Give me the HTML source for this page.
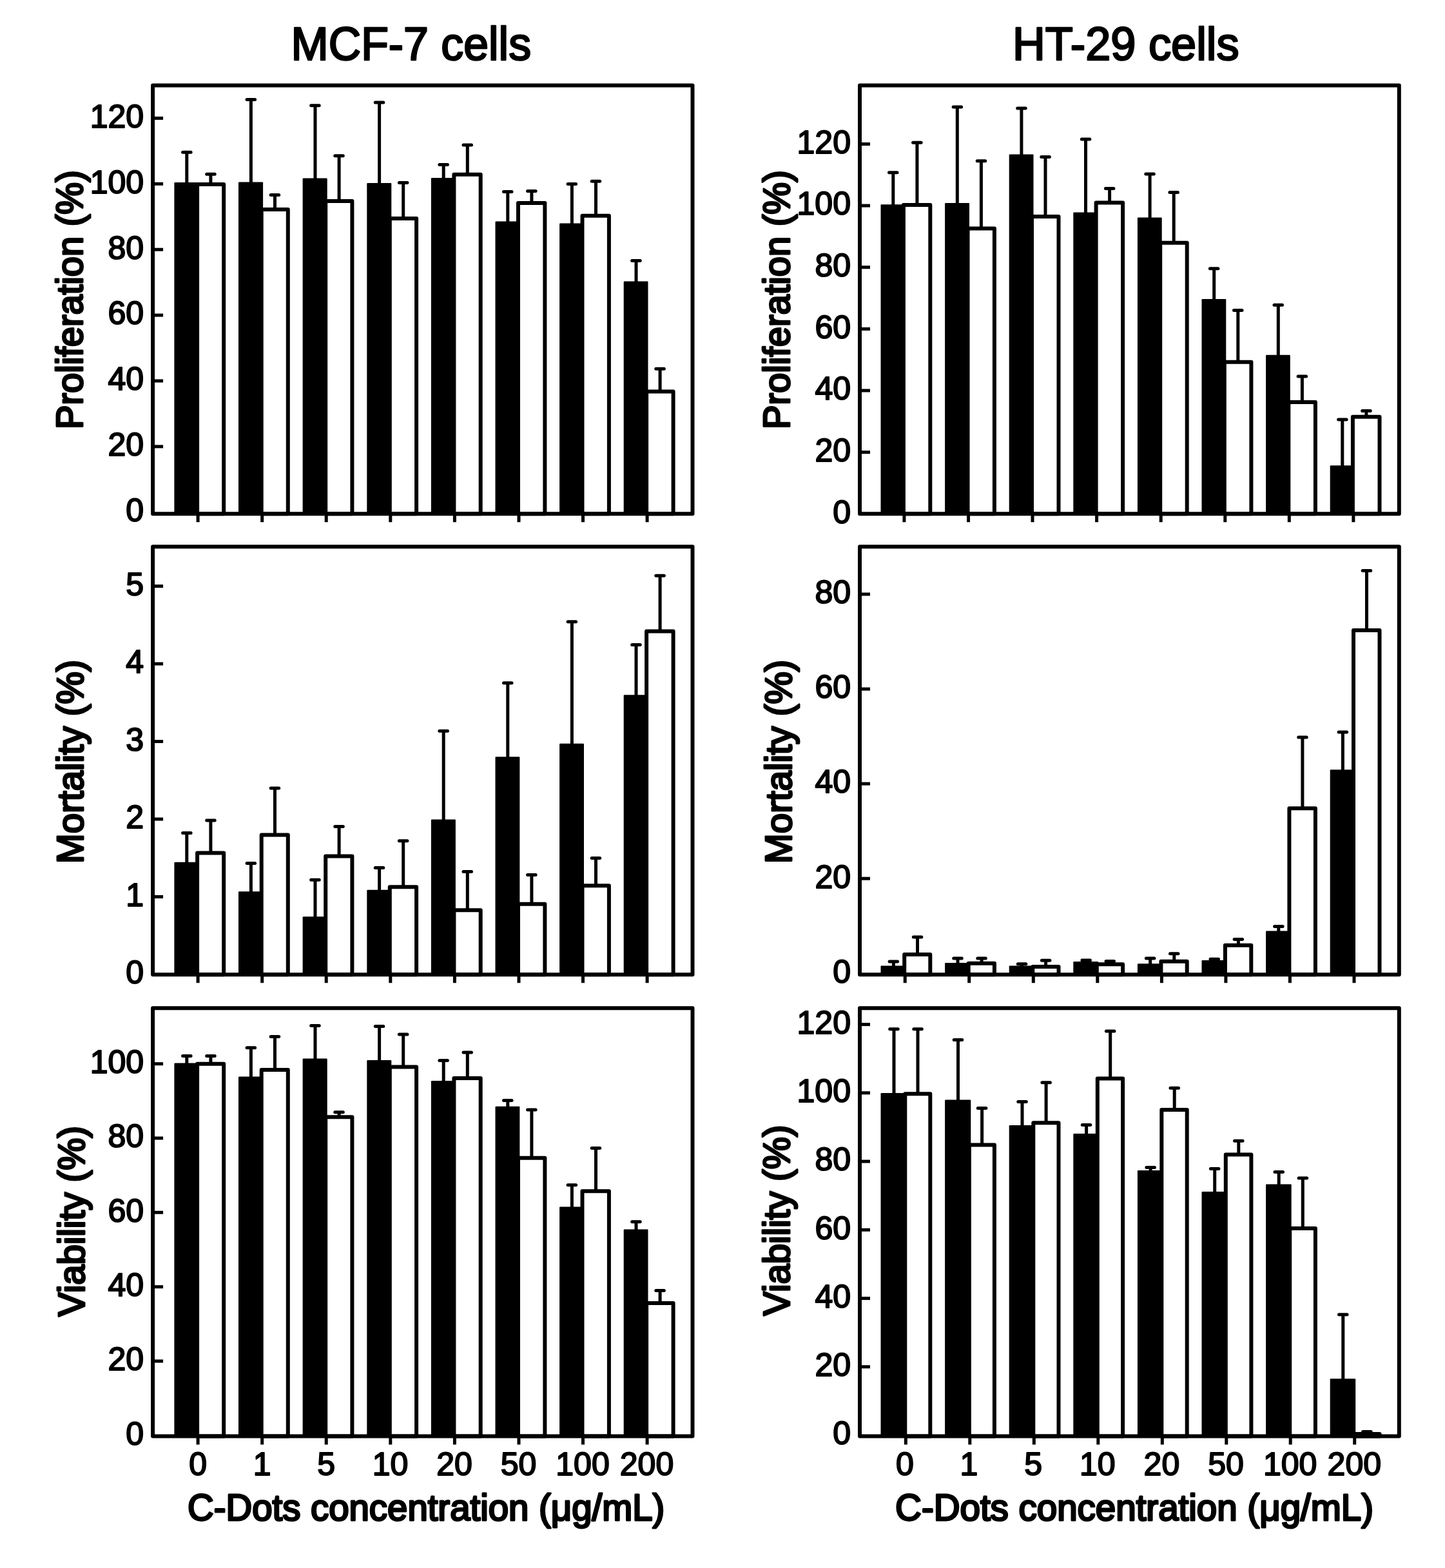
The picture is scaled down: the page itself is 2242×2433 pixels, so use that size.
<!DOCTYPE html>
<html><head><meta charset="utf-8"><title>C-Dots cytotoxicity</title>
<style>html,body{margin:0;padding:0;background:#fff;}svg{display:block;}text{font-family:"Liberation Sans", Arial, Helvetica, sans-serif;fill:#000;stroke:#000;stroke-width:2px;stroke-linejoin:round;}.tt{stroke-width:2.6px;}.ax{stroke-width:3px;}</style></head><body>
<div id="fig"><svg xmlns="http://www.w3.org/2000/svg" width="2242" height="2433" viewBox="0 0 2242 2433">
<rect width="2242" height="2433" fill="#fff"/>
<text class="tt" font-size="72" transform="translate(451.56 92.7) scale(0.9702 1)">MCF-7 cells</text>
<text class="tt" font-size="72" transform="translate(1570.97 92.7) scale(0.9766 1)">HT-29 cells</text>
<g stroke="#000" fill="none" stroke-linejoin="round">
<path d="M289.8 285V236.3" stroke-width="5.0"/>
<path d="M283.6 236.3H296.1" stroke-width="5.0" stroke-linecap="round"/>
<path d="M326.9 286V270.3" stroke-width="5.0"/>
<path d="M320.7 270.3H333.2" stroke-width="5.0" stroke-linecap="round"/>
<rect x="270.4" y="283" width="38.2" height="514.2" rx="1.2" fill="#000" stroke="none"/>
<rect x="306.1" y="286" width="41.1" height="511.2" fill="#fff" stroke-width="6.0"/>
<path d="M389.4 284.4V154.4" stroke-width="5.0"/>
<path d="M383.1 154.4H395.6" stroke-width="5.0" stroke-linecap="round"/>
<path d="M426.5 325V302.6" stroke-width="5.0"/>
<path d="M420.2 302.6H432.7" stroke-width="5.0" stroke-linecap="round"/>
<rect x="370" y="282.4" width="38.1" height="514.8" rx="1.2" fill="#000" stroke="none"/>
<rect x="405.7" y="325" width="41.1" height="472.2" fill="#fff" stroke-width="6.0"/>
<path d="M489 278.6V163.7" stroke-width="5.0"/>
<path d="M482.7 163.7H495.2" stroke-width="5.0" stroke-linecap="round"/>
<path d="M526.1 312V241.7" stroke-width="5.0"/>
<path d="M519.8 241.7H532.3" stroke-width="5.0" stroke-linecap="round"/>
<rect x="469.6" y="276.6" width="38.1" height="520.6" rx="1.2" fill="#000" stroke="none"/>
<rect x="505.2" y="312" width="41.2" height="485.2" fill="#fff" stroke-width="6.0"/>
<path d="M588.6 286V159.1" stroke-width="5.0"/>
<path d="M582.3 159.1H594.8" stroke-width="5.0" stroke-linecap="round"/>
<path d="M625.7 339V283.6" stroke-width="5.0"/>
<path d="M619.4 283.6H631.9" stroke-width="5.0" stroke-linecap="round"/>
<rect x="569.3" y="284" width="38" height="513.2" rx="1.2" fill="#000" stroke="none"/>
<rect x="604.8" y="339" width="41.3" height="458.2" fill="#fff" stroke-width="6.0"/>
<path d="M688.2 278.1V255.6" stroke-width="5.0"/>
<path d="M681.9 255.6H694.4" stroke-width="5.0" stroke-linecap="round"/>
<path d="M725.3 270.8V224.9" stroke-width="5.0"/>
<path d="M719 224.9H731.5" stroke-width="5.0" stroke-linecap="round"/>
<rect x="668.9" y="276.1" width="38" height="521.1" rx="1.2" fill="#000" stroke="none"/>
<rect x="704.4" y="270.8" width="41.3" height="526.4" fill="#fff" stroke-width="6.0"/>
<path d="M787.8 345.6V297.5" stroke-width="5.0"/>
<path d="M781.5 297.5H794" stroke-width="5.0" stroke-linecap="round"/>
<path d="M824.9 315V296.4" stroke-width="5.0"/>
<path d="M818.6 296.4H831.1" stroke-width="5.0" stroke-linecap="round"/>
<rect x="768.5" y="343.6" width="37.9" height="453.6" rx="1.2" fill="#000" stroke="none"/>
<rect x="804" y="315" width="41.4" height="482.2" fill="#fff" stroke-width="6.0"/>
<path d="M887.4 348.4V285.4" stroke-width="5.0"/>
<path d="M881.1 285.4H893.6" stroke-width="5.0" stroke-linecap="round"/>
<path d="M924.5 334.7V281.2" stroke-width="5.0"/>
<path d="M918.2 281.2H930.7" stroke-width="5.0" stroke-linecap="round"/>
<rect x="868.1" y="346.4" width="37.9" height="450.8" rx="1.2" fill="#000" stroke="none"/>
<rect x="903.5" y="334.7" width="41.4" height="462.5" fill="#fff" stroke-width="6.0"/>
<path d="M987 438.6V404.5" stroke-width="5.0"/>
<path d="M980.7 404.5H993.2" stroke-width="5.0" stroke-linecap="round"/>
<path d="M1024.1 607.4V572.2" stroke-width="5.0"/>
<path d="M1017.8 572.2H1030.3" stroke-width="5.0" stroke-linecap="round"/>
<rect x="967.7" y="436.6" width="37.8" height="360.6" rx="1.2" fill="#000" stroke="none"/>
<rect x="1003.1" y="607.4" width="41.5" height="189.8" fill="#fff" stroke-width="6.0"/>
<rect x="237.1" y="132.6" width="837.4" height="664.6" stroke-width="6.0"/>
<path d="M237.1 692.9H253.1" stroke-width="5.0"/>
<path d="M237.1 591H253.1" stroke-width="5.0"/>
<path d="M237.1 489.1H253.1" stroke-width="5.0"/>
<path d="M237.1 387.2H253.1" stroke-width="5.0"/>
<path d="M237.1 285.3H253.1" stroke-width="5.0"/>
<path d="M237.1 183.4H253.1" stroke-width="5.0"/>
<path d="M307.1 797.2V810.2" stroke-width="5.0"/>
<path d="M406.7 797.2V810.2" stroke-width="5.0"/>
<path d="M506.2 797.2V810.2" stroke-width="5.0"/>
<path d="M605.8 797.2V810.2" stroke-width="5.0"/>
<path d="M705.4 797.2V810.2" stroke-width="5.0"/>
<path d="M805 797.2V810.2" stroke-width="5.0"/>
<path d="M904.5 797.2V810.2" stroke-width="5.0"/>
<path d="M1004.1 797.2V810.2" stroke-width="5.0"/>
</g>
<text x="223.1" y="809.1" font-size="50" text-anchor="end">0</text>
<text x="223.1" y="707.2" font-size="50" text-anchor="end">20</text>
<text x="223.1" y="605.3" font-size="50" text-anchor="end">40</text>
<text x="223.1" y="503.4" font-size="50" text-anchor="end">60</text>
<text x="223.1" y="401.5" font-size="50" text-anchor="end">80</text>
<text x="223.1" y="299.6" font-size="50" text-anchor="end">100</text>
<text x="223.1" y="197.7" font-size="50" text-anchor="end">120</text>
<text class="ax" font-size="57" transform="translate(128.2 665.9) rotate(-90) scale(0.9833 1)">Proliferation (%)</text>
<g stroke="#000" fill="none" stroke-linejoin="round">
<path d="M1385.8 319.3V267.7" stroke-width="5.0"/>
<path d="M1379.5 267.7H1392" stroke-width="5.0" stroke-linecap="round"/>
<path d="M1422.9 318V221.2" stroke-width="5.0"/>
<path d="M1416.6 221.2H1429.1" stroke-width="5.0" stroke-linecap="round"/>
<rect x="1366.5" y="317.3" width="37.9" height="479.9" rx="1.2" fill="#000" stroke="none"/>
<rect x="1401.9" y="318" width="41.4" height="479.2" fill="#fff" stroke-width="6.0"/>
<path d="M1485.3 317V166.1" stroke-width="5.0"/>
<path d="M1479.1 166.1H1491.6" stroke-width="5.0" stroke-linecap="round"/>
<path d="M1522.4 354.5V249.8" stroke-width="5.0"/>
<path d="M1516.2 249.8H1528.7" stroke-width="5.0" stroke-linecap="round"/>
<rect x="1466.1" y="315" width="37.9" height="482.2" rx="1.2" fill="#000" stroke="none"/>
<rect x="1501.5" y="354.5" width="41.4" height="442.7" fill="#fff" stroke-width="6.0"/>
<path d="M1584.9 241.4V167.9" stroke-width="5.0"/>
<path d="M1578.7 167.9H1591.2" stroke-width="5.0" stroke-linecap="round"/>
<path d="M1622 335.9V243.5" stroke-width="5.0"/>
<path d="M1615.8 243.5H1628.3" stroke-width="5.0" stroke-linecap="round"/>
<rect x="1565.7" y="239.4" width="37.8" height="557.8" rx="1.2" fill="#000" stroke="none"/>
<rect x="1601" y="335.9" width="41.5" height="461.3" fill="#fff" stroke-width="6.0"/>
<path d="M1684.5 331.6V216.1" stroke-width="5.0"/>
<path d="M1678.3 216.1H1690.8" stroke-width="5.0" stroke-linecap="round"/>
<path d="M1721.6 314.5V292.4" stroke-width="5.0"/>
<path d="M1715.4 292.4H1727.9" stroke-width="5.0" stroke-linecap="round"/>
<rect x="1665.3" y="329.6" width="37.8" height="467.6" rx="1.2" fill="#000" stroke="none"/>
<rect x="1700.6" y="314.5" width="41.5" height="482.7" fill="#fff" stroke-width="6.0"/>
<path d="M1784.1 339.4V269.9" stroke-width="5.0"/>
<path d="M1777.8 269.9H1790.3" stroke-width="5.0" stroke-linecap="round"/>
<path d="M1821.2 376.8V298.4" stroke-width="5.0"/>
<path d="M1814.9 298.4H1827.4" stroke-width="5.0" stroke-linecap="round"/>
<rect x="1764.9" y="337.4" width="37.8" height="459.8" rx="1.2" fill="#000" stroke="none"/>
<rect x="1800.2" y="376.8" width="41.5" height="420.4" fill="#fff" stroke-width="6.0"/>
<path d="M1883.7 466V416.8" stroke-width="5.0"/>
<path d="M1877.4 416.8H1889.9" stroke-width="5.0" stroke-linecap="round"/>
<path d="M1920.8 561.7V481.5" stroke-width="5.0"/>
<path d="M1914.5 481.5H1927" stroke-width="5.0" stroke-linecap="round"/>
<rect x="1864.5" y="464" width="37.8" height="333.2" rx="1.2" fill="#000" stroke="none"/>
<rect x="1899.8" y="561.7" width="41.6" height="235.5" fill="#fff" stroke-width="6.0"/>
<path d="M1983.3 552.8V473.3" stroke-width="5.0"/>
<path d="M1977 473.3H1989.5" stroke-width="5.0" stroke-linecap="round"/>
<path d="M2020.4 623.9V583.9" stroke-width="5.0"/>
<path d="M2014.1 583.9H2026.6" stroke-width="5.0" stroke-linecap="round"/>
<rect x="1964.1" y="550.8" width="37.7" height="246.4" rx="1.2" fill="#000" stroke="none"/>
<rect x="1999.3" y="623.9" width="41.6" height="173.3" fill="#fff" stroke-width="6.0"/>
<path d="M2082.8 724.3V650.9" stroke-width="5.0"/>
<path d="M2076.6 650.9H2089.1" stroke-width="5.0" stroke-linecap="round"/>
<path d="M2119.9 646.7V637.4" stroke-width="5.0"/>
<path d="M2113.7 637.4H2126.2" stroke-width="5.0" stroke-linecap="round"/>
<rect x="2063.7" y="722.3" width="37.7" height="74.9" rx="1.2" fill="#000" stroke="none"/>
<rect x="2098.9" y="646.7" width="41.6" height="150.5" fill="#fff" stroke-width="6.0"/>
<rect x="1334" y="132.6" width="836.8" height="664.6" stroke-width="6.0"/>
<path d="M1334 701.7H1350" stroke-width="5.0"/>
<path d="M1334 606H1350" stroke-width="5.0"/>
<path d="M1334 510.4H1350" stroke-width="5.0"/>
<path d="M1334 414.7H1350" stroke-width="5.0"/>
<path d="M1334 319.1H1350" stroke-width="5.0"/>
<path d="M1334 223.5H1350" stroke-width="5.0"/>
<path d="M1402.9 797.2V810.2" stroke-width="5.0"/>
<path d="M1502.5 797.2V810.2" stroke-width="5.0"/>
<path d="M1602 797.2V810.2" stroke-width="5.0"/>
<path d="M1701.6 797.2V810.2" stroke-width="5.0"/>
<path d="M1801.2 797.2V810.2" stroke-width="5.0"/>
<path d="M1900.8 797.2V810.2" stroke-width="5.0"/>
<path d="M2000.3 797.2V810.2" stroke-width="5.0"/>
<path d="M2099.9 797.2V810.2" stroke-width="5.0"/>
</g>
<text x="1320" y="811.6" font-size="50" text-anchor="end">0</text>
<text x="1320" y="716" font-size="50" text-anchor="end">20</text>
<text x="1320" y="620.3" font-size="50" text-anchor="end">40</text>
<text x="1320" y="524.7" font-size="50" text-anchor="end">60</text>
<text x="1320" y="429" font-size="50" text-anchor="end">80</text>
<text x="1320" y="333.4" font-size="50" text-anchor="end">100</text>
<text x="1320" y="237.8" font-size="50" text-anchor="end">120</text>
<text class="ax" font-size="57" transform="translate(1224.5 665.9) rotate(-90) scale(0.9833 1)">Proliferation (%)</text>
<g stroke="#000" fill="none" stroke-linejoin="round">
<path d="M289.8 1339.8V1292.4" stroke-width="5.0"/>
<path d="M283.6 1292.4H296.1" stroke-width="5.0" stroke-linecap="round"/>
<path d="M326.9 1323.4V1273.1" stroke-width="5.0"/>
<path d="M320.7 1273.1H333.2" stroke-width="5.0" stroke-linecap="round"/>
<rect x="270.4" y="1337.8" width="38.2" height="174.4" rx="1.2" fill="#000" stroke="none"/>
<rect x="306.1" y="1323.4" width="41.1" height="188.8" fill="#fff" stroke-width="6.0"/>
<path d="M389.4 1385.2V1339.4" stroke-width="5.0"/>
<path d="M383.1 1339.4H395.6" stroke-width="5.0" stroke-linecap="round"/>
<path d="M426.5 1295.4V1223.1" stroke-width="5.0"/>
<path d="M420.2 1223.1H432.7" stroke-width="5.0" stroke-linecap="round"/>
<rect x="370" y="1383.2" width="38.1" height="129" rx="1.2" fill="#000" stroke="none"/>
<rect x="405.7" y="1295.4" width="41.1" height="216.8" fill="#fff" stroke-width="6.0"/>
<path d="M489 1424.2V1365.2" stroke-width="5.0"/>
<path d="M482.7 1365.2H495.2" stroke-width="5.0" stroke-linecap="round"/>
<path d="M526.1 1328.5V1282.6" stroke-width="5.0"/>
<path d="M519.8 1282.6H532.3" stroke-width="5.0" stroke-linecap="round"/>
<rect x="469.6" y="1422.2" width="38.1" height="90" rx="1.2" fill="#000" stroke="none"/>
<rect x="505.2" y="1328.5" width="41.2" height="183.7" fill="#fff" stroke-width="6.0"/>
<path d="M588.6 1382.8V1346.6" stroke-width="5.0"/>
<path d="M582.3 1346.6H594.8" stroke-width="5.0" stroke-linecap="round"/>
<path d="M625.7 1376.2V1304.8" stroke-width="5.0"/>
<path d="M619.4 1304.8H631.9" stroke-width="5.0" stroke-linecap="round"/>
<rect x="569.3" y="1380.8" width="38" height="131.4" rx="1.2" fill="#000" stroke="none"/>
<rect x="604.8" y="1376.2" width="41.3" height="136" fill="#fff" stroke-width="6.0"/>
<path d="M688.2 1273.5V1134.3" stroke-width="5.0"/>
<path d="M681.9 1134.3H694.4" stroke-width="5.0" stroke-linecap="round"/>
<path d="M725.3 1412.2V1352.5" stroke-width="5.0"/>
<path d="M719 1352.5H731.5" stroke-width="5.0" stroke-linecap="round"/>
<rect x="668.9" y="1271.5" width="38" height="240.7" rx="1.2" fill="#000" stroke="none"/>
<rect x="704.4" y="1412.2" width="41.3" height="100" fill="#fff" stroke-width="6.0"/>
<path d="M787.8 1176.2V1059.7" stroke-width="5.0"/>
<path d="M781.5 1059.7H794" stroke-width="5.0" stroke-linecap="round"/>
<path d="M824.9 1402.8V1357.4" stroke-width="5.0"/>
<path d="M818.6 1357.4H831.1" stroke-width="5.0" stroke-linecap="round"/>
<rect x="768.5" y="1174.2" width="37.9" height="338" rx="1.2" fill="#000" stroke="none"/>
<rect x="804" y="1402.8" width="41.4" height="109.4" fill="#fff" stroke-width="6.0"/>
<path d="M887.4 1155.7V964.7" stroke-width="5.0"/>
<path d="M881.1 964.7H893.6" stroke-width="5.0" stroke-linecap="round"/>
<path d="M924.5 1374.3V1331.5" stroke-width="5.0"/>
<path d="M918.2 1331.5H930.7" stroke-width="5.0" stroke-linecap="round"/>
<rect x="868.1" y="1153.7" width="37.9" height="358.5" rx="1.2" fill="#000" stroke="none"/>
<rect x="903.5" y="1374.3" width="41.4" height="137.9" fill="#fff" stroke-width="6.0"/>
<path d="M987 1080.2V1000.4" stroke-width="5.0"/>
<path d="M980.7 1000.4H993.2" stroke-width="5.0" stroke-linecap="round"/>
<path d="M1024.1 979.6V893.3" stroke-width="5.0"/>
<path d="M1017.8 893.3H1030.3" stroke-width="5.0" stroke-linecap="round"/>
<rect x="967.7" y="1078.2" width="37.8" height="434" rx="1.2" fill="#000" stroke="none"/>
<rect x="1003.1" y="979.6" width="41.5" height="532.6" fill="#fff" stroke-width="6.0"/>
<rect x="237.1" y="848.3" width="837.4" height="663.9" stroke-width="6.0"/>
<path d="M237.1 1391.5H253.1" stroke-width="5.0"/>
<path d="M237.1 1271H253.1" stroke-width="5.0"/>
<path d="M237.1 1150.5H253.1" stroke-width="5.0"/>
<path d="M237.1 1030H253.1" stroke-width="5.0"/>
<path d="M237.1 909.5H253.1" stroke-width="5.0"/>
<path d="M307.1 1512.2V1525.2" stroke-width="5.0"/>
<path d="M406.7 1512.2V1525.2" stroke-width="5.0"/>
<path d="M506.2 1512.2V1525.2" stroke-width="5.0"/>
<path d="M605.8 1512.2V1525.2" stroke-width="5.0"/>
<path d="M705.4 1512.2V1525.2" stroke-width="5.0"/>
<path d="M805 1512.2V1525.2" stroke-width="5.0"/>
<path d="M904.5 1512.2V1525.2" stroke-width="5.0"/>
<path d="M1004.1 1512.2V1525.2" stroke-width="5.0"/>
</g>
<text x="223.1" y="1526.3" font-size="50" text-anchor="end">0</text>
<text x="223.1" y="1405.8" font-size="50" text-anchor="end">1</text>
<text x="223.1" y="1285.3" font-size="50" text-anchor="end">2</text>
<text x="223.1" y="1164.8" font-size="50" text-anchor="end">3</text>
<text x="223.1" y="1044.3" font-size="50" text-anchor="end">4</text>
<text x="223.1" y="923.8" font-size="50" text-anchor="end">5</text>
<text class="ax" font-size="57" transform="translate(129.1 1340.2) rotate(-90) scale(0.99 1)">Mortality (%)</text>
<g stroke="#000" fill="none" stroke-linejoin="round">
<path d="M1386.4 1500.4V1492" stroke-width="5.0"/>
<path d="M1380.1 1492H1392.6" stroke-width="5.0" stroke-linecap="round"/>
<path d="M1423.5 1481.1V1453.9" stroke-width="5.0"/>
<path d="M1417.3 1453.9H1429.8" stroke-width="5.0" stroke-linecap="round"/>
<rect x="1366.5" y="1498.4" width="39.2" height="13.8" rx="1.2" fill="#000" stroke="none"/>
<rect x="1403.2" y="1481.1" width="40.1" height="31.1" fill="#fff" stroke-width="6.0"/>
<path d="M1486 1496.1V1487.1" stroke-width="5.0"/>
<path d="M1479.7 1487.1H1492.2" stroke-width="5.0" stroke-linecap="round"/>
<path d="M1523.1 1494.7V1487.1" stroke-width="5.0"/>
<path d="M1516.8 1487.1H1529.3" stroke-width="5.0" stroke-linecap="round"/>
<rect x="1466.1" y="1494.1" width="39.1" height="18.1" rx="1.2" fill="#000" stroke="none"/>
<rect x="1502.7" y="1494.7" width="40.2" height="17.5" fill="#fff" stroke-width="6.0"/>
<path d="M1585.5 1500.4V1495.8" stroke-width="5.0"/>
<path d="M1579.3 1495.8H1591.8" stroke-width="5.0" stroke-linecap="round"/>
<path d="M1622.6 1500.1V1490.3" stroke-width="5.0"/>
<path d="M1616.4 1490.3H1628.9" stroke-width="5.0" stroke-linecap="round"/>
<rect x="1565.7" y="1498.4" width="39.1" height="13.8" rx="1.2" fill="#000" stroke="none"/>
<rect x="1602.3" y="1500.1" width="40.2" height="12.1" fill="#fff" stroke-width="6.0"/>
<path d="M1685.1 1494V1490" stroke-width="5.0"/>
<path d="M1678.9 1490H1691.4" stroke-width="5.0" stroke-linecap="round"/>
<path d="M1722.2 1496.3V1491.4" stroke-width="5.0"/>
<path d="M1716 1491.4H1728.5" stroke-width="5.0" stroke-linecap="round"/>
<rect x="1665.3" y="1492" width="39" height="20.2" rx="1.2" fill="#000" stroke="none"/>
<rect x="1701.8" y="1496.3" width="40.3" height="15.9" fill="#fff" stroke-width="6.0"/>
<path d="M1784.7 1497.2V1487.1" stroke-width="5.0"/>
<path d="M1778.4 1487.1H1790.9" stroke-width="5.0" stroke-linecap="round"/>
<path d="M1821.8 1491.7V1479.7" stroke-width="5.0"/>
<path d="M1815.5 1479.7H1828" stroke-width="5.0" stroke-linecap="round"/>
<rect x="1764.9" y="1495.2" width="39" height="17" rx="1.2" fill="#000" stroke="none"/>
<rect x="1801.4" y="1491.7" width="40.3" height="20.5" fill="#fff" stroke-width="6.0"/>
<path d="M1884.2 1492V1488.3" stroke-width="5.0"/>
<path d="M1878 1488.3H1890.5" stroke-width="5.0" stroke-linecap="round"/>
<path d="M1921.4 1466.7V1457.6" stroke-width="5.0"/>
<path d="M1915.1 1457.6H1927.6" stroke-width="5.0" stroke-linecap="round"/>
<rect x="1864.5" y="1490" width="38.9" height="22.2" rx="1.2" fill="#000" stroke="none"/>
<rect x="1900.9" y="1466.7" width="40.4" height="45.5" fill="#fff" stroke-width="6.0"/>
<path d="M1983.8 1446.6V1437.5" stroke-width="5.0"/>
<path d="M1977.6 1437.5H1990.1" stroke-width="5.0" stroke-linecap="round"/>
<path d="M2020.9 1254.3V1144" stroke-width="5.0"/>
<path d="M2014.7 1144H2027.2" stroke-width="5.0" stroke-linecap="round"/>
<rect x="1964.1" y="1444.6" width="38.8" height="67.6" rx="1.2" fill="#000" stroke="none"/>
<rect x="2000.4" y="1254.3" width="40.5" height="257.9" fill="#fff" stroke-width="6.0"/>
<path d="M2083.4 1196.3V1135.9" stroke-width="5.0"/>
<path d="M2077.1 1135.9H2089.6" stroke-width="5.0" stroke-linecap="round"/>
<path d="M2120.5 978V885.6" stroke-width="5.0"/>
<path d="M2114.2 885.6H2126.7" stroke-width="5.0" stroke-linecap="round"/>
<rect x="2063.7" y="1194.3" width="38.8" height="317.9" rx="1.2" fill="#000" stroke="none"/>
<rect x="2100" y="978" width="40.5" height="534.2" fill="#fff" stroke-width="6.0"/>
<rect x="1334" y="848.3" width="836.8" height="663.9" stroke-width="6.0"/>
<path d="M1334 1363.2H1350" stroke-width="5.0"/>
<path d="M1334 1216.1H1350" stroke-width="5.0"/>
<path d="M1334 1069.1H1350" stroke-width="5.0"/>
<path d="M1334 922H1350" stroke-width="5.0"/>
<path d="M1404.2 1512.2V1525.2" stroke-width="5.0"/>
<path d="M1503.7 1512.2V1525.2" stroke-width="5.0"/>
<path d="M1603.3 1512.2V1525.2" stroke-width="5.0"/>
<path d="M1702.8 1512.2V1525.2" stroke-width="5.0"/>
<path d="M1802.4 1512.2V1525.2" stroke-width="5.0"/>
<path d="M1901.9 1512.2V1525.2" stroke-width="5.0"/>
<path d="M2001.4 1512.2V1525.2" stroke-width="5.0"/>
<path d="M2101 1512.2V1525.2" stroke-width="5.0"/>
</g>
<text x="1320" y="1524.5" font-size="50" text-anchor="end">0</text>
<text x="1320" y="1377.5" font-size="50" text-anchor="end">20</text>
<text x="1320" y="1230.4" font-size="50" text-anchor="end">40</text>
<text x="1320" y="1083.4" font-size="50" text-anchor="end">60</text>
<text x="1320" y="936.3" font-size="50" text-anchor="end">80</text>
<text class="ax" font-size="57" transform="translate(1228.2 1340.2) rotate(-90) scale(0.99 1)">Mortality (%)</text>
<g stroke="#000" fill="none" stroke-linejoin="round">
<path d="M289.8 1651.6V1638.6" stroke-width="5.0"/>
<path d="M283.6 1638.6H296.1" stroke-width="5.0" stroke-linecap="round"/>
<path d="M326.9 1650.7V1638.6" stroke-width="5.0"/>
<path d="M320.7 1638.6H333.2" stroke-width="5.0" stroke-linecap="round"/>
<rect x="270.4" y="1649.6" width="38.2" height="578.9" rx="1.2" fill="#000" stroke="none"/>
<rect x="306.1" y="1650.7" width="41.1" height="577.8" fill="#fff" stroke-width="6.0"/>
<path d="M389.4 1672.5V1625.8" stroke-width="5.0"/>
<path d="M383.1 1625.8H395.6" stroke-width="5.0" stroke-linecap="round"/>
<path d="M426.5 1660V1608.4" stroke-width="5.0"/>
<path d="M420.2 1608.4H432.7" stroke-width="5.0" stroke-linecap="round"/>
<rect x="370" y="1670.5" width="38.1" height="558" rx="1.2" fill="#000" stroke="none"/>
<rect x="405.7" y="1660" width="41.1" height="568.5" fill="#fff" stroke-width="6.0"/>
<path d="M489 1644.6V1591.4" stroke-width="5.0"/>
<path d="M482.7 1591.4H495.2" stroke-width="5.0" stroke-linecap="round"/>
<path d="M526.1 1733.3V1725.7" stroke-width="5.0"/>
<path d="M519.8 1725.7H532.3" stroke-width="5.0" stroke-linecap="round"/>
<rect x="469.6" y="1642.6" width="38.1" height="585.9" rx="1.2" fill="#000" stroke="none"/>
<rect x="505.2" y="1733.3" width="41.2" height="495.2" fill="#fff" stroke-width="6.0"/>
<path d="M588.6 1646.9V1592.6" stroke-width="5.0"/>
<path d="M582.3 1592.6H594.8" stroke-width="5.0" stroke-linecap="round"/>
<path d="M625.7 1655.4V1604.9" stroke-width="5.0"/>
<path d="M619.4 1604.9H631.9" stroke-width="5.0" stroke-linecap="round"/>
<rect x="569.3" y="1644.9" width="38" height="583.6" rx="1.2" fill="#000" stroke="none"/>
<rect x="604.8" y="1655.4" width="41.3" height="573.1" fill="#fff" stroke-width="6.0"/>
<path d="M688.2 1679V1645.5" stroke-width="5.0"/>
<path d="M681.9 1645.5H694.4" stroke-width="5.0" stroke-linecap="round"/>
<path d="M725.3 1672.9V1632.9" stroke-width="5.0"/>
<path d="M719 1632.9H731.5" stroke-width="5.0" stroke-linecap="round"/>
<rect x="668.9" y="1677" width="38" height="551.5" rx="1.2" fill="#000" stroke="none"/>
<rect x="704.4" y="1672.9" width="41.3" height="555.6" fill="#fff" stroke-width="6.0"/>
<path d="M787.8 1718.7V1707.5" stroke-width="5.0"/>
<path d="M781.5 1707.5H794" stroke-width="5.0" stroke-linecap="round"/>
<path d="M824.9 1796.7V1722.1" stroke-width="5.0"/>
<path d="M818.6 1722.1H831.1" stroke-width="5.0" stroke-linecap="round"/>
<rect x="768.5" y="1716.7" width="37.9" height="511.8" rx="1.2" fill="#000" stroke="none"/>
<rect x="804" y="1796.7" width="41.4" height="431.8" fill="#fff" stroke-width="6.0"/>
<path d="M887.4 1874.6V1838.7" stroke-width="5.0"/>
<path d="M881.1 1838.7H893.6" stroke-width="5.0" stroke-linecap="round"/>
<path d="M924.5 1848.2V1781.4" stroke-width="5.0"/>
<path d="M918.2 1781.4H930.7" stroke-width="5.0" stroke-linecap="round"/>
<rect x="868.1" y="1872.6" width="37.9" height="355.9" rx="1.2" fill="#000" stroke="none"/>
<rect x="903.5" y="1848.2" width="41.4" height="380.3" fill="#fff" stroke-width="6.0"/>
<path d="M987 1909.6V1895.7" stroke-width="5.0"/>
<path d="M980.7 1895.7H993.2" stroke-width="5.0" stroke-linecap="round"/>
<path d="M1024.1 2021.9V2002.5" stroke-width="5.0"/>
<path d="M1017.8 2002.5H1030.3" stroke-width="5.0" stroke-linecap="round"/>
<rect x="967.7" y="1907.6" width="37.8" height="320.9" rx="1.2" fill="#000" stroke="none"/>
<rect x="1003.1" y="2021.9" width="41.5" height="206.6" fill="#fff" stroke-width="6.0"/>
<rect x="237.1" y="1564.2" width="837.4" height="664.3" stroke-width="6.0"/>
<path d="M237.1 2112H253.1" stroke-width="5.0"/>
<path d="M237.1 1996.7H253.1" stroke-width="5.0"/>
<path d="M237.1 1881.3H253.1" stroke-width="5.0"/>
<path d="M237.1 1766H253.1" stroke-width="5.0"/>
<path d="M237.1 1650.7H253.1" stroke-width="5.0"/>
<path d="M307.1 2228.5V2241.5" stroke-width="5.0"/>
<path d="M406.7 2228.5V2241.5" stroke-width="5.0"/>
<path d="M506.2 2228.5V2241.5" stroke-width="5.0"/>
<path d="M605.8 2228.5V2241.5" stroke-width="5.0"/>
<path d="M705.4 2228.5V2241.5" stroke-width="5.0"/>
<path d="M805 2228.5V2241.5" stroke-width="5.0"/>
<path d="M904.5 2228.5V2241.5" stroke-width="5.0"/>
<path d="M1004.1 2228.5V2241.5" stroke-width="5.0"/>
</g>
<text x="223.1" y="2241.6" font-size="50" text-anchor="end">0</text>
<text x="223.1" y="2126.3" font-size="50" text-anchor="end">20</text>
<text x="223.1" y="2011" font-size="50" text-anchor="end">40</text>
<text x="223.1" y="1895.6" font-size="50" text-anchor="end">60</text>
<text x="223.1" y="1780.3" font-size="50" text-anchor="end">80</text>
<text x="223.1" y="1665" font-size="50" text-anchor="end">100</text>
<text class="ax" font-size="57" transform="translate(130.5 2042.8) rotate(-90) scale(0.9865 1)">Viability (%)</text>
<g stroke="#000" fill="none" stroke-linejoin="round">
<path d="M1387 1698.1V1596.8" stroke-width="5.0"/>
<path d="M1380.7 1596.8H1393.2" stroke-width="5.0" stroke-linecap="round"/>
<path d="M1424 1697.3V1596.8" stroke-width="5.0"/>
<path d="M1417.8 1596.8H1430.3" stroke-width="5.0" stroke-linecap="round"/>
<rect x="1366.5" y="1696.1" width="40.3" height="532.4" rx="1.2" fill="#000" stroke="none"/>
<rect x="1404.3" y="1697.3" width="39" height="531.2" fill="#fff" stroke-width="6.0"/>
<path d="M1486.5 1708.6V1613.5" stroke-width="5.0"/>
<path d="M1480.2 1613.5H1492.7" stroke-width="5.0" stroke-linecap="round"/>
<path d="M1523.6 1776.4V1719.4" stroke-width="5.0"/>
<path d="M1517.3 1719.4H1529.8" stroke-width="5.0" stroke-linecap="round"/>
<rect x="1466.1" y="1706.6" width="40.2" height="521.9" rx="1.2" fill="#000" stroke="none"/>
<rect x="1503.8" y="1776.4" width="39.1" height="452.1" fill="#fff" stroke-width="6.0"/>
<path d="M1586 1748.1V1709.6" stroke-width="5.0"/>
<path d="M1579.8 1709.6H1592.3" stroke-width="5.0" stroke-linecap="round"/>
<path d="M1623.1 1742.2V1679.8" stroke-width="5.0"/>
<path d="M1616.9 1679.8H1629.4" stroke-width="5.0" stroke-linecap="round"/>
<rect x="1565.7" y="1746.1" width="40.1" height="482.4" rx="1.2" fill="#000" stroke="none"/>
<rect x="1603.3" y="1742.2" width="39.2" height="486.3" fill="#fff" stroke-width="6.0"/>
<path d="M1685.6 1760.9V1745.4" stroke-width="5.0"/>
<path d="M1679.3 1745.4H1691.8" stroke-width="5.0" stroke-linecap="round"/>
<path d="M1722.7 1673.5V1600" stroke-width="5.0"/>
<path d="M1716.4 1600H1728.9" stroke-width="5.0" stroke-linecap="round"/>
<rect x="1665.3" y="1758.9" width="40" height="469.6" rx="1.2" fill="#000" stroke="none"/>
<rect x="1702.8" y="1673.5" width="39.3" height="555" fill="#fff" stroke-width="6.0"/>
<path d="M1785.1 1818V1811.6" stroke-width="5.0"/>
<path d="M1778.9 1811.6H1791.4" stroke-width="5.0" stroke-linecap="round"/>
<path d="M1822.2 1722.1V1688.2" stroke-width="5.0"/>
<path d="M1816 1688.2H1828.5" stroke-width="5.0" stroke-linecap="round"/>
<rect x="1764.9" y="1816" width="39.9" height="412.5" rx="1.2" fill="#000" stroke="none"/>
<rect x="1802.3" y="1722.1" width="39.4" height="506.4" fill="#fff" stroke-width="6.0"/>
<path d="M1884.7 1850.9V1813.6" stroke-width="5.0"/>
<path d="M1878.4 1813.6H1890.9" stroke-width="5.0" stroke-linecap="round"/>
<path d="M1921.8 1791.6V1770.2" stroke-width="5.0"/>
<path d="M1915.5 1770.2H1928" stroke-width="5.0" stroke-linecap="round"/>
<rect x="1864.5" y="1848.9" width="39.8" height="379.6" rx="1.2" fill="#000" stroke="none"/>
<rect x="1901.8" y="1791.6" width="39.6" height="436.9" fill="#fff" stroke-width="6.0"/>
<path d="M1984.2 1839.4V1818.4" stroke-width="5.0"/>
<path d="M1978 1818.4H1990.5" stroke-width="5.0" stroke-linecap="round"/>
<path d="M2021.3 1905.9V1827.9" stroke-width="5.0"/>
<path d="M2015.1 1827.9H2027.6" stroke-width="5.0" stroke-linecap="round"/>
<rect x="1964.1" y="1837.4" width="39.6" height="391.1" rx="1.2" fill="#000" stroke="none"/>
<rect x="2001.2" y="1905.9" width="39.7" height="322.6" fill="#fff" stroke-width="6.0"/>
<path d="M2083.8 2141.2V2039.8" stroke-width="5.0"/>
<path d="M2077.5 2039.8H2090" stroke-width="5.0" stroke-linecap="round"/>
<path d="M2120.9 2225V2221.5" stroke-width="5.0"/>
<path d="M2114.6 2221.5H2127.1" stroke-width="5.0" stroke-linecap="round"/>
<rect x="2063.7" y="2139.2" width="39.5" height="89.3" rx="1.2" fill="#000" stroke="none"/>
<rect x="2100.7" y="2225" width="39.8" height="3.5" fill="#fff" stroke-width="6.0"/>
<rect x="1334" y="1564.2" width="836.8" height="664.3" stroke-width="6.0"/>
<path d="M1334 2120.8H1350" stroke-width="5.0"/>
<path d="M1334 2014.6H1350" stroke-width="5.0"/>
<path d="M1334 1908.3H1350" stroke-width="5.0"/>
<path d="M1334 1802.1H1350" stroke-width="5.0"/>
<path d="M1334 1695.8H1350" stroke-width="5.0"/>
<path d="M1334 1589.6H1350" stroke-width="5.0"/>
<path d="M1405.3 2228.5V2241.5" stroke-width="5.0"/>
<path d="M1504.8 2228.5V2241.5" stroke-width="5.0"/>
<path d="M1604.3 2228.5V2241.5" stroke-width="5.0"/>
<path d="M1703.8 2228.5V2241.5" stroke-width="5.0"/>
<path d="M1803.3 2228.5V2241.5" stroke-width="5.0"/>
<path d="M1902.8 2228.5V2241.5" stroke-width="5.0"/>
<path d="M2002.2 2228.5V2241.5" stroke-width="5.0"/>
<path d="M2101.7 2228.5V2241.5" stroke-width="5.0"/>
</g>
<text x="1320" y="2241.4" font-size="50" text-anchor="end">0</text>
<text x="1320" y="2135.2" font-size="50" text-anchor="end">20</text>
<text x="1320" y="2028.9" font-size="50" text-anchor="end">40</text>
<text x="1320" y="1922.6" font-size="50" text-anchor="end">60</text>
<text x="1320" y="1816.4" font-size="50" text-anchor="end">80</text>
<text x="1320" y="1710.1" font-size="50" text-anchor="end">100</text>
<text x="1320" y="1603.9" font-size="50" text-anchor="end">120</text>
<text class="ax" font-size="57" transform="translate(1225 2041.4) rotate(-90) scale(0.9865 1)">Viability (%)</text>
<text x="307.1" y="2289.3" font-size="50" text-anchor="middle">0</text>
<text x="406.6" y="2289.3" font-size="50" text-anchor="middle">1</text>
<text x="506.1" y="2289.3" font-size="50" text-anchor="middle">5</text>
<text x="605.5" y="2289.3" font-size="50" text-anchor="middle">10</text>
<text x="705" y="2289.3" font-size="50" text-anchor="middle">20</text>
<text x="804.5" y="2289.3" font-size="50" text-anchor="middle">50</text>
<text x="904" y="2289.3" font-size="50" text-anchor="middle">100</text>
<text x="1003.5" y="2289.3" font-size="50" text-anchor="middle">200</text>
<text class="ax" font-size="57" transform="translate(291 2358.7) scale(0.9889 1)">C-Dots concentration (μg/mL)</text>
<text x="1403.8" y="2289.3" font-size="50" text-anchor="middle">0</text>
<text x="1503.4" y="2289.3" font-size="50" text-anchor="middle">1</text>
<text x="1603.1" y="2289.3" font-size="50" text-anchor="middle">5</text>
<text x="1702.7" y="2289.3" font-size="50" text-anchor="middle">10</text>
<text x="1802.4" y="2289.3" font-size="50" text-anchor="middle">20</text>
<text x="1902" y="2289.3" font-size="50" text-anchor="middle">50</text>
<text x="2001.6" y="2289.3" font-size="50" text-anchor="middle">100</text>
<text x="2101.3" y="2289.3" font-size="50" text-anchor="middle">200</text>
<text class="ax" font-size="57" transform="translate(1389.1 2358.7) scale(0.9912 1)">C-Dots concentration (μg/mL)</text>
</svg></div>
</body></html>
